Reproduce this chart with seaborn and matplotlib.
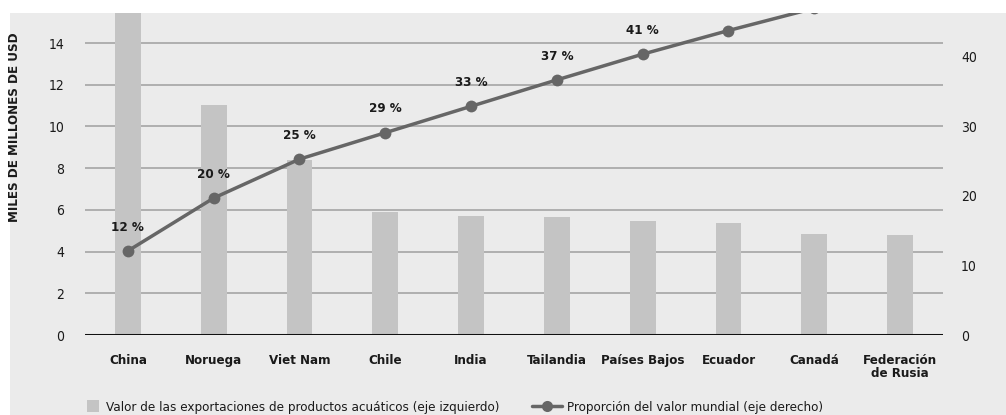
import matplotlib
matplotlib.use("Agg")
import matplotlib.pyplot as plt
import seaborn as sns
import numpy as np
import pandas as pd
from matplotlib.patches import Rectangle, Patch
from matplotlib.lines import Line2D

countries = ["China", "Noruega", "Viet Nam", "Chile", "India", "Tailandia",
             "Países Bajos", "Ecuador", "Canadá", "Federación\nde Rusia"]
export_value = [19.0, 11.05, 8.4, 5.9, 5.72, 5.67, 5.48, 5.36, 4.84, 4.80]
world_share = [12.1, 19.7, 25.3, 29.1, 32.9, 36.7, 40.4, 43.8, 47.0, 50.1]
share_labels = ["12 %", "20 %", "25 %", "29 %", "33 %", "37 %", "41 %"]
left_ticks = [0, 2, 4, 6, 8, 10, 12, 14]
right_ticks = [0, 10, 20, 30, 40]
legend_labels = ["Valor de las exportaciones de productos acuáticos (eje izquierdo)",
                 "Proporción del valor mundial (eje derecho)"]
ylabel = "MILES DE MILLONES DE USD"

sns.set_theme(style="white")
plt.rcParams["font.family"] = ["DejaVu Sans"]
plt.rcParams["font.stretch"] = "condensed"

BG = "#ebebeb"
BAR = "#c4c4c4"
LINE = "#666666"
GRID = "#aaaaaa"
TXT = "#1a1a1a"

W, H = 1006, 415
fig = plt.figure(figsize=(W / 100, H / 100), dpi=100)
fig.patch.set_facecolor("white")
fig.patches.append(Rectangle((10 / W, 0), 1 - 10 / W, (H - 13) / H,
                             transform=fig.transFigure, facecolor=BG,
                             edgecolor="none", zorder=-10))

ax = fig.add_axes([85 / W, (H - 335) / H, (943 - 85) / W, (335 - 13) / H])
ax.set_facecolor("none")

df = pd.DataFrame({"pais": countries, "valor": export_value, "cuota": world_share})
sns.barplot(data=df, x="pais", y="valor", color=BAR, width=0.3, ax=ax,
            saturation=1, linewidth=0, edgecolor="none", zorder=2)
ylim_left = 15.44
ax.set_ylim(0, ylim_left)
ax.set_xlim(-0.5, len(countries) - 0.5)
ax.set_yticks(left_ticks)
ax.set_yticklabels([str(t) for t in left_ticks], fontsize=10, color=TXT)
for t in left_ticks[1:]:
    ax.axhline(t, color=GRID, lw=1.3, zorder=1)
ax.axhline(0, color="#111111", lw=2.2, zorder=3)
ax.tick_params(axis="y", length=0, pad=15)
ax.tick_params(axis="x", length=0, pad=14)
ax.set_xticks(range(len(countries)))
ax.set_xticklabels(countries, fontsize=9.5, fontweight="bold", color=TXT,
                   linespacing=1.0, va="top")
ax.set_xlabel("")
ax.set_ylabel("")
for s in ax.spines.values():
    s.set_visible(False)

ax2 = ax.twinx()
ax2.set_facecolor("none")
sns.lineplot(x=np.arange(len(countries)), y=world_share, ax=ax2, color=LINE,
             lw=2.5, marker="o", markersize=8.5, markeredgewidth=0, zorder=5)
ax2.set_ylim(0, ylim_left * 3)
ax2.set_yticks(right_ticks)
ax2.set_yticklabels([str(t) for t in right_ticks], fontsize=10, color=TXT)
ax2.tick_params(axis="y", length=0, pad=13)
for s in ax2.spines.values():
    s.set_visible(False)
ax2.grid(False)
for i, lab in enumerate(share_labels):
    ax2.annotate(lab, (i, world_share[i]), xytext=(0, 12.5), textcoords="offset points",
                 ha="center", va="bottom", fontsize=9.5, fontweight="bold",
                 color=TXT)

fig.text(15 / W, (H - 127) / H, ylabel, rotation=90, ha="center", va="center",
         fontsize=9.5, fontweight="bold", color=TXT)

leg1 = fig.legend([Patch(facecolor=BAR, edgecolor="none")], [legend_labels[0]],
                  loc="center left", bbox_to_anchor=(87 / W, 8 / H), frameon=False,
                  fontsize=9.6, handlelength=0.9, handleheight=0.9,
                  handletextpad=0.5, borderpad=0, borderaxespad=0, labelcolor=TXT)
leg2 = fig.legend([Line2D([0], [0], color=LINE, lw=2.5, marker="o", markersize=8,
                          markeredgewidth=0)], [legend_labels[1]],
                  loc="center left", bbox_to_anchor=(532 / W, 8 / H), frameon=False,
                  fontsize=9.6, handlelength=2.25, handletextpad=0.4,
                  borderpad=0, borderaxespad=0, labelcolor=TXT)

fig.savefig("out.png", dpi=100, facecolor=fig.get_facecolor())
